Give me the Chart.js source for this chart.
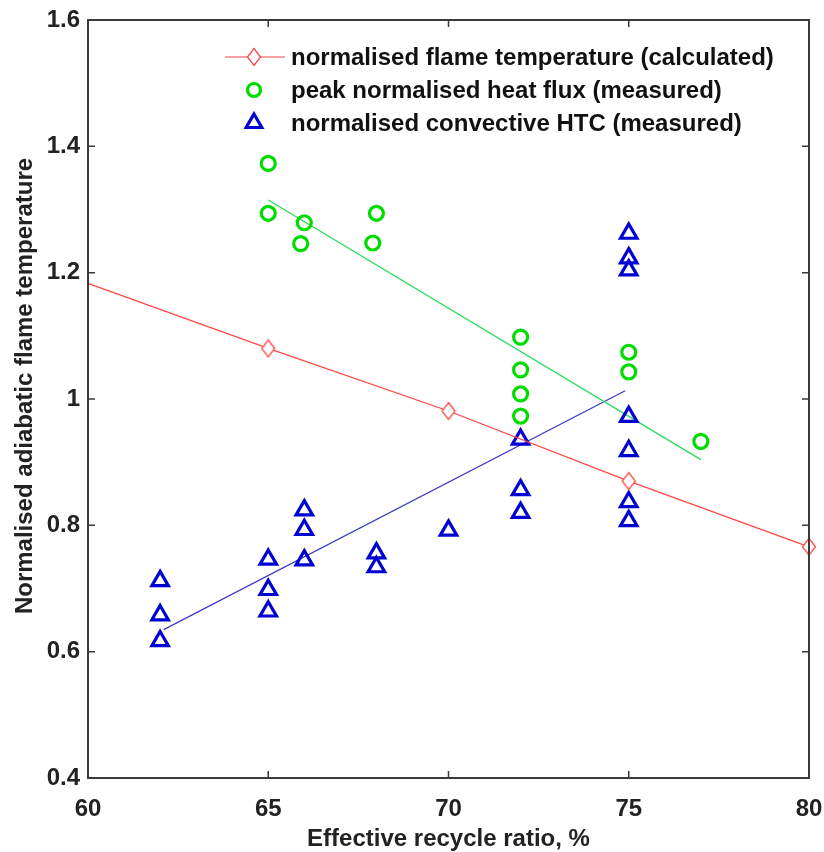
<!DOCTYPE html>
<html>
<head>
<meta charset="utf-8">
<script src="https://cdn.jsdelivr.net/npm/chart.js@4/dist/chart.umd.min.js"></script>
<style>
  html, body { margin: 0; padding: 0; background: #fff; }
  #wrap { width: 824px; height: 852px; }
</style>
</head>
<body>
<div id="wrap"><canvas id="chart"></canvas></div>
<script>
// calculated flame temperature
const calcX = [60, 65, 70, 75, 80];
const calcY = [1.183, 1.080, 0.981, 0.870, 0.766];

// peak heat flux (measured)
const fluxX = [65, 65, 66, 65.9, 68, 67.9, 72, 72, 72, 72, 75, 75, 77];
const fluxY = [1.373, 1.294, 1.279, 1.246, 1.294, 1.247, 1.098, 1.046, 1.008, 0.973, 1.074, 1.043, 0.933];
const fluxFitX = [65, 77];
const fluxFitY = [1.315, 0.904];

// convective HTC (measured)
const htcX = [62, 62, 62, 65, 65, 65, 66, 66, 66, 68, 68, 70, 72, 72, 72, 75, 75, 75, 75, 75, 75, 75];
const htcY = [0.712, 0.658, 0.617, 0.746, 0.698, 0.664, 0.824, 0.793, 0.745, 0.756, 0.734, 0.792,
              0.936, 0.856, 0.820, 1.262, 1.223, 1.204, 0.972, 0.918, 0.837, 0.807];
const htcFitX = [62.1, 74.9];
const htcFitY = [0.635, 1.013];

const xTicks = [60, 65, 70, 75, 80];
const yTicks = [0.4, 0.6, 0.8, 1, 1.2, 1.4, 1.6];

const RED = 'rgb(255,70,70)';
const GREEN = 'rgb(0,220,0)';
const GREENLINE = 'rgb(40,220,90)';
const BLUE = 'rgb(0,0,210)';
const BLUELINE = 'rgb(60,60,200)';
const AXIS = '#3a3a3a';
const FONT = "'Liberation Sans', Arial, sans-serif";

function pts(xs, ys) {
  return xs.map((x, i) => ({ x: x, y: ys[i] }));
}

// tall thin diamond marker like the matlab one
function diamond() {
  const c = document.createElement('canvas');
  c.width = 16; c.height = 20;
  const g = c.getContext('2d');
  g.strokeStyle = RED;
  g.lineWidth = 1.3;
  g.beginPath();
  g.moveTo(8, 1.5); g.lineTo(14.5, 10); g.lineTo(8, 18.5); g.lineTo(1.5, 10); g.closePath();
  g.fillStyle = '#fff';
  g.fill();
  g.stroke();
  return c;
}
const diamondImg = diamond();

function marker(ctx, style, r, x, y) {
  ctx.beginPath();
  if (style === 'circle') {
    ctx.arc(x, y, r, 0, Math.PI * 2);
  } else {
    ctx.moveTo(x, y - r);
    ctx.lineTo(x + r * 0.866, y + r / 2);
    ctx.lineTo(x - r * 0.866, y + r / 2);
    ctx.closePath();
  }
  ctx.stroke();
}

const boxPlugin = {
  id: 'box',
  afterDraw(chart) {
    const ctx = chart.ctx;
    const a = chart.chartArea;
    const xs = chart.scales.x, ys = chart.scales.y;
    ctx.save();
    ctx.strokeStyle = AXIS;
    ctx.lineWidth = 2;
    ctx.strokeRect(a.left, a.top, a.right - a.left, a.bottom - a.top);
    ctx.lineWidth = 1.5;
    const tl = 7;
    ctx.beginPath();
    xTicks.forEach(v => {
      const px = xs.getPixelForValue(v);
      if (px <= a.left + 1 || px >= a.right - 1) return;
      ctx.moveTo(px, a.bottom); ctx.lineTo(px, a.bottom - tl);
      ctx.moveTo(px, a.top); ctx.lineTo(px, a.top + tl);
    });
    yTicks.forEach(v => {
      const py = ys.getPixelForValue(v);
      if (py <= a.top + 1 || py >= a.bottom - 1) return;
      ctx.moveTo(a.left, py); ctx.lineTo(a.left + tl, py);
      ctx.moveTo(a.right, py); ctx.lineTo(a.right - tl, py);
    });
    ctx.stroke();

    // y axis title
    ctx.fillStyle = '#222';
    ctx.font = 'bold 24px ' + FONT;
    ctx.textAlign = 'center';
    ctx.textBaseline = 'middle';
    ctx.translate(25, 386);
    ctx.rotate(-Math.PI / 2);
    ctx.fillText('Normalised adiabatic flame temperature', 0, 0);
    ctx.restore();

    // legend inside the axes
    ctx.save();
    ctx.font = 'bold 24px ' + FONT;
    ctx.textBaseline = 'middle';
    ctx.textAlign = 'left';
    let row = 0;
    chart.data.datasets.forEach(ds => {
      if (!ds.label) return;
      const y = a.top + 37 + row * 33;
      const mx = a.left + 166;
      if (ds.showLine) {
        ctx.strokeStyle = ds.borderColor;
        ctx.lineWidth = 1.2;
        ctx.beginPath();
        ctx.moveTo(a.left + 137, y); ctx.lineTo(a.left + 197, y);
        ctx.stroke();
      }
      if (typeof ds.pointStyle === 'string') {
        ctx.strokeStyle = ds.pointBorderColor;
        ctx.lineWidth = ds.pointBorderWidth;
        marker(ctx, ds.pointStyle, ds.legendRadius, mx, y);
      } else {
        ctx.drawImage(ds.pointStyle, mx - ds.pointStyle.width / 2, y - ds.pointStyle.height / 2);
      }
      ctx.fillStyle = '#111';
      ctx.fillText(ds.label, a.left + 203, y + 1);
      row++;
    });
    ctx.restore();
  }
};

new Chart(document.getElementById('chart'), {
  type: 'scatter',
  data: {
    datasets: [
      {
        label: 'normalised flame temperature (calculated)',
        data: pts(calcX, calcY),
        showLine: true,
        borderColor: RED,
        borderWidth: 1.3,
        pointStyle: diamondImg,
        legendRadius: 8,
        pointRadius: [0, 8, 8, 8, 8],
        pointBorderColor: RED,
        pointBorderWidth: 1.2,
        clip: false,
        order: 1
      },
      {
        label: 'peak normalised heat flux (measured)',
        data: pts(fluxX, fluxY),
        showLine: false,
        pointStyle: 'circle',
        legendRadius: 6.5,
        pointRadius: 7,
        pointBorderWidth: 3.2,
        pointBorderColor: GREEN,
        pointBackgroundColor: 'rgba(0,0,0,0)',
        clip: false,
        order: 2
      },
      {
        label: 'normalised convective HTC (measured)',
        data: pts(htcX, htcY),
        showLine: false,
        pointStyle: 'triangle',
        legendRadius: 9,
        pointRadius: 9.5,
        pointBorderWidth: 3.2,
        pointBorderColor: BLUE,
        pointBackgroundColor: 'rgba(0,0,0,0)',
        clip: false,
        order: 3
      },
      {
        data: pts(fluxFitX, fluxFitY),
        showLine: true,
        borderColor: GREENLINE,
        borderWidth: 1.3,
        pointRadius: 0,
        order: 4
      },
      {
        data: pts(htcFitX, htcFitY),
        showLine: true,
        borderColor: BLUELINE,
        borderWidth: 1.3,
        pointRadius: 0,
        order: 5
      }
    ]
  },
  options: {
    responsive: true,
    maintainAspectRatio: false,
    animation: false,
    events: [],
    layout: { autoPadding: false, padding: { top: 20, right: 15, left: 0, bottom: 0 } },
    plugins: {
      legend: { display: false },
      tooltip: { enabled: false }
    },
    scales: {
      x: {
        type: 'linear',
        min: 60,
        max: 80,
        afterBuildTicks: s => { s.ticks = xTicks.map(v => ({ value: v })); },
        afterFit: s => { s.height = 74; s.paddingLeft = 0; s.paddingRight = 0; },
        grid: { display: false },
        border: { display: false },
        ticks: {
          color: '#222',
          padding: 9,
          maxRotation: 0,
          font: { family: FONT, size: 24, weight: 'bold' }
        },
        title: {
          display: true,
          text: 'Effective recycle ratio, %',
          color: '#222',
          padding: { top: 0, bottom: -2 },
          font: { family: FONT, size: 24, weight: 'bold' }
        }
      },
      y: {
        type: 'linear',
        min: 0.4,
        max: 1.6,
        afterBuildTicks: s => { s.ticks = yTicks.map(v => ({ value: v })); },
        afterFit: s => { s.width = 88; s.paddingTop = 0; s.paddingBottom = 0; },
        grid: { display: false },
        border: { display: false },
        ticks: {
          color: '#222',
          padding: 0,
          font: { family: FONT, size: 24, weight: 'bold' },
          callback: v => String(parseFloat(v.toFixed(1)))
        }
      }
    }
  },
  plugins: [boxPlugin]
});
</script>
</body>
</html>
